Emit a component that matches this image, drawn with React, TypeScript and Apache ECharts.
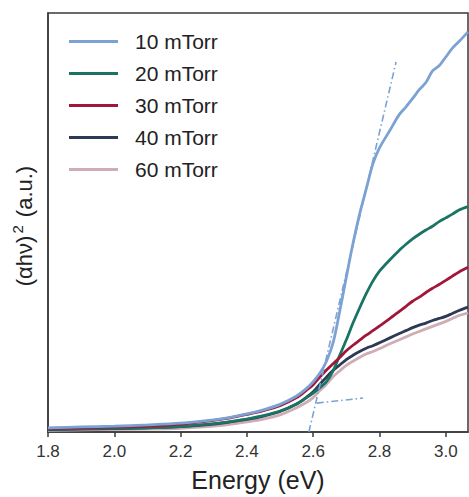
import React, { useEffect, useRef } from "react";
import * as echarts from "echarts";

const energy = [1.8, 1.9, 2.0, 2.1, 2.2, 2.3, 2.35, 2.4, 2.45, 2.5, 2.55, 2.58, 2.6, 2.62, 2.64, 2.66, 2.68, 2.7, 2.72, 2.74, 2.76, 2.78, 2.8, 2.83, 2.86, 2.88, 2.9, 2.92, 2.94, 2.96, 2.98, 3.0, 3.02, 3.04, 3.067];

const s10 = [1.0, 1.2, 1.4, 1.7, 2.1, 2.9, 3.5, 4.3, 5.3, 6.6, 8.6, 10.4, 12.0, 14.0, 16.9, 21.3, 28.8, 37.0, 45.0, 52.0, 58.0, 64.0, 67.8, 71.8, 75.8, 77.6, 79.6, 81.7, 83.4, 86.2, 87.4, 89.5, 91.6, 93.2, 95.5];
const s20 = [0.7, 0.8, 0.9, 1.0, 1.3, 2.0, 2.5, 3.1, 3.9, 5.0, 6.7, 8.2, 9.3, 10.6, 12.0, 14.6, 18.3, 22.0, 26.0, 29.6, 33.0, 36.0, 38.4, 41.0, 43.4, 44.8, 46.1, 47.2, 48.2, 49.1, 50.2, 51.1, 52.0, 53.0, 53.8];
const s30 = [0.85, 1.0, 1.2, 1.4, 1.9, 2.8, 3.4, 4.2, 5.1, 6.3, 8.2, 10.0, 11.3, 13.1, 14.8, 16.3, 17.8, 19.4, 20.7, 21.9, 23.1, 24.2, 25.3, 27.0, 28.8, 30.0, 31.2, 32.2, 33.3, 34.3, 35.2, 36.2, 37.2, 38.2, 39.3];
const s40 = [0.6, 0.7, 0.8, 1.0, 1.3, 1.9, 2.4, 3.0, 3.8, 4.9, 6.7, 8.3, 9.6, 11.4, 13.1, 14.7, 16.0, 17.3, 18.3, 19.2, 20.0, 20.6, 21.3, 22.4, 23.5, 24.2, 24.9, 25.5, 26.0, 26.6, 27.1, 27.6, 28.3, 29.0, 29.8];
const s60 = [0.4, 0.5, 0.6, 0.7, 0.9, 1.4, 1.8, 2.4, 3.1, 4.1, 5.8, 7.1, 8.2, 9.9, 11.4, 13.2, 14.6, 15.9, 16.9, 17.8, 18.6, 19.2, 19.9, 21.0, 22.0, 22.7, 23.4, 24.0, 24.6, 25.2, 25.8, 26.4, 27.1, 27.8, 28.4];

const tangentX = [2.587, 2.85];
const tangentY = [0, 88.3];
const baseX = [2.611, 2.75];
const baseY = [6.9, 8.1];

const names = ["10 mTorr", "20 mTorr", "30 mTorr", "40 mTorr", "60 mTorr"];
const colors = ["#7ba2d3", "#1b7363", "#a2163a", "#2d3a56", "#cfadb5"];
const seriesValues = [s10, s20, s30, s40, s60];

const FONT = "'Liberation Sans', Arial, sans-serif";

export default function App() {
  const ref = useRef<HTMLDivElement>(null);
  useEffect(() => {
    if (!ref.current) return;
    const chart = echarts.init(ref.current, null, { renderer: "svg" });
    const drawOrder = [4, 3, 1, 2, 0];
    const lineSeries = drawOrder.map((i) => ({
      name: names[i],
      type: "line",
      data: energy.map((e, k) => [e, seriesValues[i][k]]),
      symbol: "none",
      smooth: 0.3,
      lineStyle: { color: colors[i], width: 2.8 },
      itemStyle: { color: colors[i] },
      z: 3,
    }));
    const dashStyle = { color: "#7ba2d3", width: 1.6, type: [7, 3, 1.5, 3] };
    const option = {
      animation: false,
      backgroundColor: "#ffffff",
      grid: {
        left: 48,
        right: 1,
        top: 13,
        bottom: 65,
        show: true,
        borderColor: "#3a3a3a",
        borderWidth: 1.5,
      },
      legend: {
        data: names,
        orient: "vertical",
        left: 64,
        top: 26,
        itemWidth: 49,
        itemHeight: 14,
        itemGap: 11,
        icon: "path://M0,5.8 L50,5.8 L50,8.8 L0,8.8 Z",
        textStyle: { fontFamily: FONT, fontSize: 21, color: "#222", lineHeight: 21, padding: [0, 0, 0, 12] },
      },
      xAxis: {
        type: "value",
        min: 1.8,
        max: 3.067,
        interval: 0.2,
        axisLine: { show: true, lineStyle: { color: "#3a3a3a", width: 1.5 } },
        axisTick: { show: true, inside: false, length: 5, lineStyle: { color: "#3a3a3a", width: 1.5 } },
        axisLabel: {
          showMaxLabel: false,
          margin: 11,
          fontFamily: FONT,
          fontSize: 17,
          color: "#333",
          formatter: (v: number) => v.toFixed(1),
        },
        splitLine: { show: false },
        name: "Energy (eV)",
        nameLocation: "middle",
        nameGap: 35,
        nameTextStyle: { fontFamily: FONT, fontSize: 25, color: "#222" },
      },
      yAxis: {
        type: "value",
        min: 0,
        max: 100,
        axisLine: { show: true, lineStyle: { color: "#3a3a3a", width: 1.5 } },
        axisTick: { show: false },
        axisLabel: { show: false },
        splitLine: { show: false },
      },
      graphic: [
        {
          type: "text",
          x: 24,
          y: 226,
          rotation: Math.PI / 2,
          style: {
            text: "{a|(αhν)}{s|2}{a| (a.u.)}",
            fontFamily: FONT,
            fontSize: 22,
            fill: "#222",
            align: "center",
            verticalAlign: "middle",
            rich: {
              a: { fontFamily: FONT, fontSize: 22, fill: "#222", lineHeight: 28, verticalAlign: "middle" },
              s: { fontFamily: FONT, fontSize: 15, fill: "#222", lineHeight: 28, verticalAlign: "top", padding: [0, 2, 0, 2] },
            },
          },
        },
      ],
      series: [
        ...lineSeries,
        {
          name: "tangent",
          type: "line",
          data: tangentX.map((x, k) => [x, tangentY[k]]),
          symbol: "none",
          lineStyle: dashStyle,
          z: 4,
        },
        {
          name: "baseline",
          type: "line",
          data: baseX.map((x, k) => [x, baseY[k]]),
          symbol: "none",
          lineStyle: dashStyle,
          z: 4,
        },
      ],
    };
    chart.setOption(option as any);
    return () => chart.dispose();
  }, []);
  return <div ref={ref} style={{ position: "fixed", left: 0, top: 0, width: 469, height: 497 }} />;
}
